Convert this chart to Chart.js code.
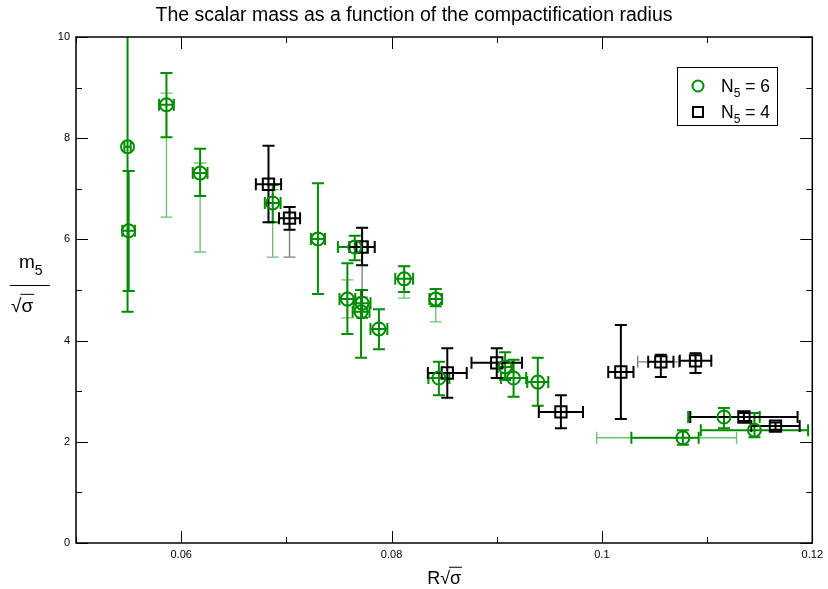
<!DOCTYPE html>
<html>
<head>
<meta charset="utf-8">
<script src="https://cdn.jsdelivr.net/npm/chart.js@4.4.1/dist/chart.umd.min.js"></script>
<style>
body { margin: 0; background: #fff; }
#wrap { width: 828px; height: 589px; }
</style>
</head>
<body>
<div id="wrap"><canvas id="massChart"></canvas></div>
<script>
// N5 = 6 (green circles)
const g6X    = [0.0549, 0.0550, 0.0586, 0.0618, 0.0687, 0.0730, 0.0765, 0.0758, 0.0772, 0.0771, 0.0788, 0.0812, 0.0842, 0.0845, 0.0908, 0.0916, 0.0939, 0.1116, 0.1145, 0.1077];
const g6Y    = [7.83, 6.17, 8.66, 7.31, 6.72, 6.01, 5.85, 4.82, 4.74, 4.57, 4.23, 5.22, 4.82, 3.26, 3.48, 3.26, 3.18, 2.49, 2.23, 2.08];
const g6YLo  = [4.57, 4.98, 8.02, 6.86, 6.34, 4.92, 5.59, 4.13, 4.45, 3.66, 3.83, 4.96, 4.68, 2.92, 3.22, 2.89, 2.71, 2.27, 2.09, 1.94];
const g6YHi  = [10.6, 7.35, 9.29, 7.79, 7.08, 7.11, 6.07, 5.53, 5.00, 5.00, 4.62, 5.47, 5.02, 3.58, 3.77, 3.62, 3.66, 2.67, 2.57, 2.23];
const g6XMin = [0.0003, 0.0006, 0.0007, 0.0007, 0.00075, 0.00067, 0.0016, 0.00075, 0.0008, 0.0008, 0.0008, 0.00085, 0.0006, 0.001, 0.0007, 0.0012, 0.001, 0.0034, 0.0051, 0.0049];
const g6XPls = [0.0003, 0.0006, 0.0007, 0.0007, 0.00075, 0.00067, 0.0012, 0.00075, 0.0008, 0.0008, 0.0008, 0.00085, 0.0006, 0.001, 0.0007, 0.0012, 0.001, 0.0034, 0.0051, 0.0015];
// systematic (thin) bars, null = none
const g6SysLo = [null, 4.98, 6.44, 5.75, 5.65, null, null, 4.45, null, null, null, 4.84, 4.37, null, null, null, null, null, null, null];
const g6SysHi = [null, 7.35, 8.89, 7.51, 6.98, null, null, 5.20, null, null, null, 5.47, 5.02, null, null, null, null, null, null, null];
const g6SysXMin = [null, null, null, null, null, null, null, null, null, null, null, null, null, null, null, null, null, null, null, 0.0082];
const g6SysXPls = [null, null, null, null, null, null, null, null, null, null, null, null, null, null, null, null, null, null, null, 0.0051];

// N5 = 4 (black squares)
const b4X    = [0.0683, 0.0703, 0.0772, 0.0853, 0.0900, 0.0961, 0.1018, 0.1056, 0.1089, 0.1135, 0.1165];
const b4Y    = [7.09, 6.42, 5.85, 3.36, 3.56, 2.59, 3.38, 3.58, 3.60, 2.49, 2.31];
const b4YLo  = [6.34, 6.19, 5.49, 2.87, 3.26, 2.27, 2.45, 3.28, 3.36, 2.41, 2.24];
const b4YHi  = [7.85, 6.64, 6.23, 3.85, 3.85, 2.92, 4.31, 3.72, 3.75, 2.57, 2.38];
const b4XErr = [0.0012, 0.0010, 0.0012, 0.00185, 0.0024, 0.0021, 0.0012, 0.0012, 0.0015, 0.0051, 0.0023];
const b4SysLo = [null, 5.65, 4.86, null, null, null, null, null, null, null, null];
const b4SysHi = [null, 6.64, 6.23, null, null, null, null, null, null, null, null];
const b4SysXMin = [null, null, null, null, null, null, null, 0.0022, null, null, null];
const b4SysXPls = [null, null, null, null, null, null, null, 0.0017, null, null, null];

const xTicks = [0.06, 0.08, 0.1, 0.12];
const xTickLabels = ['0.06', '0.08', '0.1', '0.12'];
const xMinor = [0.05, 0.07, 0.09, 0.11];
const yTicks = [0, 2, 4, 6, 8, 10];
const yMinor = [1, 3, 5, 7, 9];

const GREEN = 'rgb(0,140,0)';
const GREEN_LT = 'rgba(0,140,0,0.55)';
const BLACK = '#000';
const GRAY = 'rgba(0,0,0,0.5)';
const FONT = '"Liberation Sans", Arial, sans-serif';

function pts(xs, ys) {
    return xs.map(function(x, i) { return { x: x, y: ys[i] }; });
}

function yBar(ctx, sx, sy, x, lo, hi, cap) {
    var px = sx.getPixelForValue(x);
    var a = sy.getPixelForValue(lo), b = sy.getPixelForValue(hi);
    ctx.beginPath();
    ctx.moveTo(px, a); ctx.lineTo(px, b);
    ctx.moveTo(px - cap, a); ctx.lineTo(px + cap, a);
    ctx.moveTo(px - cap, b); ctx.lineTo(px + cap, b);
    ctx.stroke();
}

function xBar(ctx, sx, sy, y, lo, hi, cap) {
    var py = sy.getPixelForValue(y);
    var a = sx.getPixelForValue(lo), b = sx.getPixelForValue(hi);
    ctx.beginPath();
    ctx.moveTo(a, py); ctx.lineTo(b, py);
    ctx.moveTo(a, py - cap); ctx.lineTo(a, py + cap);
    ctx.moveTo(b, py - cap); ctx.lineTo(b, py + cap);
    ctx.stroke();
}

function drawSeries(ctx, sx, sy, o) {
    // thin bars first
    ctx.lineWidth = 1.4;
    ctx.strokeStyle = o.light;
    o.x.forEach(function(x, i) {
        if (o.sysLo[i] !== null) yBar(ctx, sx, sy, x, o.sysLo[i], o.sysHi[i], 6);
        if (o.sysXMin[i] !== null) xBar(ctx, sx, sy, o.y[i], x - o.sysXMin[i], x + o.sysXPls[i], 6);
    });
    ctx.lineWidth = 2;
    ctx.strokeStyle = o.color;
    o.x.forEach(function(x, i) {
        yBar(ctx, sx, sy, x, o.yLo[i], o.yHi[i], 6);
        xBar(ctx, sx, sy, o.y[i], x - o.xMin[i], x + o.xPls[i], 6);
    });
}

const errorBars = {
    id: 'errorBars',
    beforeDatasetsDraw: function(chart) {
        var ctx = chart.ctx, a = chart.chartArea;
        var sx = chart.scales.x, sy = chart.scales.y;
        ctx.save();
        ctx.beginPath();
        ctx.rect(a.left, a.top, a.right - a.left, a.bottom - a.top);
        ctx.clip();
        drawSeries(ctx, sx, sy, { x: g6X, y: g6Y, yLo: g6YLo, yHi: g6YHi, xMin: g6XMin, xPls: g6XPls,
            sysLo: g6SysLo, sysHi: g6SysHi, sysXMin: g6SysXMin, sysXPls: g6SysXPls, color: GREEN, light: GREEN_LT });
        drawSeries(ctx, sx, sy, { x: b4X, y: b4Y, yLo: b4YLo, yHi: b4YHi, xMin: b4XErr, xPls: b4XErr,
            sysLo: b4SysLo, sysHi: b4SysHi, sysXMin: b4SysXMin, sysXPls: b4SysXPls, color: BLACK, light: GRAY });
        ctx.restore();
    }
};

function sqrtSigma(ctx, x, base, size) {
    // radical sign with overline over sigma
    ctx.font = size + 'px ' + FONT;
    ctx.textAlign = 'left';
    ctx.textBaseline = 'alphabetic';
    var rw = ctx.measureText('\u221A').width;
    ctx.fillText('\u221A', x, base);
    var sw = ctx.measureText('\u03C3').width;
    ctx.fillText('\u03C3', x + rw, base);
    ctx.beginPath();
    ctx.lineWidth = 1;
    ctx.moveTo(x + rw - 1, base - size * 0.93);
    ctx.lineTo(x + rw + sw + 1, base - size * 0.93);
    ctx.stroke();
    return rw + sw;
}

const frameAndText = {
    id: 'frameAndText',
    afterDraw: function(chart) {
        var ctx = chart.ctx, a = chart.chartArea;
        var sx = chart.scales.x, sy = chart.scales.y;
        ctx.save();
        ctx.strokeStyle = '#000';
        ctx.fillStyle = '#000';
        // box
        ctx.lineWidth = 1.5;
        ctx.strokeRect(a.left, a.top, a.right - a.left, a.bottom - a.top);
        // inward ticks on all four sides
        ctx.lineWidth = 1;
        function tx(v, len) {
            var p = Math.round(sx.getPixelForValue(v)) + 0.5;
            ctx.beginPath();
            ctx.moveTo(p, a.bottom); ctx.lineTo(p, a.bottom - len);
            ctx.moveTo(p, a.top); ctx.lineTo(p, a.top + len);
            ctx.stroke();
        }
        function ty(v, len) {
            var p = Math.round(sy.getPixelForValue(v)) + 0.5;
            ctx.beginPath();
            ctx.moveTo(a.left, p); ctx.lineTo(a.left + len, p);
            ctx.moveTo(a.right, p); ctx.lineTo(a.right - len, p);
            ctx.stroke();
        }
        xTicks.forEach(function(v) { tx(v, 12); });
        xMinor.forEach(function(v) { tx(v, 6); });
        yTicks.forEach(function(v) { ty(v, 12); });
        yMinor.forEach(function(v) { ty(v, 6); });

        // title
        ctx.font = '19.5px ' + FONT;
        ctx.textAlign = 'center';
        ctx.textBaseline = 'alphabetic';
        ctx.fillText('The scalar mass as a function of the compactification radius', 414, 21);

        // x axis title  R sqrt(sigma)
        ctx.font = '18px ' + FONT;
        ctx.textAlign = 'left';
        var rW = ctx.measureText('R').width;
        var cx = (a.left + a.right) / 2;
        var tot = rW + ctx.measureText('\u221A\u03C3').width;
        var x0 = cx - tot / 2;
        ctx.fillText('R', x0, 584);
        sqrtSigma(ctx, x0 + rW, 584, 18);

        // y axis title  m5 / sqrt(sigma)
        ctx.font = '19px ' + FONT;
        ctx.textAlign = 'left';
        ctx.fillText('m', 19, 268);
        var mW = ctx.measureText('m').width;
        ctx.font = '14px ' + FONT;
        ctx.fillText('5', 19 + mW, 275);
        ctx.beginPath();
        ctx.lineWidth = 1;
        ctx.moveTo(10, 285.5); ctx.lineTo(50, 285.5);
        ctx.stroke();
        sqrtSigma(ctx, 11, 312, 19);

        // legend
        ctx.lineWidth = 1;
        ctx.strokeStyle = '#000';
        ctx.strokeRect(677.5, 67.5, 100, 58);
        ctx.lineWidth = 2;
        ctx.strokeStyle = GREEN;
        ctx.beginPath();
        ctx.arc(698, 86, 5.5, 0, Math.PI * 2);
        ctx.stroke();
        ctx.strokeStyle = BLACK;
        ctx.strokeRect(693, 107, 10, 10);
        [['6', 92], ['4', 118]].forEach(function(it) {
            ctx.font = '17.5px ' + FONT;
            ctx.fillText('N', 721, it[1]);
            var nW = ctx.measureText('N').width;
            ctx.font = '12px ' + FONT;
            ctx.fillText('5', 721 + nW, it[1] + 5);
            var fW = ctx.measureText('5').width;
            ctx.font = '17.5px ' + FONT;
            ctx.fillText(' = ' + it[0], 721 + nW + fW, it[1]);
        });
        ctx.restore();
    }
};

new Chart(document.getElementById('massChart'), {
    type: 'scatter',
    data: {
        datasets: [{
            label: 'N5 = 6',
            data: pts(g6X, g6Y),
            pointStyle: 'circle',
            pointRadius: 6.5,
            pointHoverRadius: 6.5,
            borderColor: GREEN,
            backgroundColor: 'rgba(0,0,0,0)',
            borderWidth: 2
        }, {
            label: 'N5 = 4',
            data: pts(b4X, b4Y),
            pointStyle: 'rect',
            pointRadius: 8,
            pointHoverRadius: 8,
            borderColor: BLACK,
            backgroundColor: 'rgba(0,0,0,0)',
            borderWidth: 2
        }]
    },
    options: {
        responsive: true,
        maintainAspectRatio: false,
        animation: false,
        events: [],
        layout: { padding: { top: 37, right: 15, left: 0, bottom: 0 } },
        plugins: {
            legend: { display: false },
            title: { display: false },
            tooltip: { enabled: false }
        },
        scales: {
            x: {
                type: 'linear',
                min: 0.05,
                max: 0.12,
                afterBuildTicks: function(s) { s.ticks = xTicks.map(function(v) { return { value: v }; }); },
                afterFit: function(s) { s.height = 46; },
                grid: { display: false, drawTicks: false },
                border: { display: false },
                ticks: {
                    padding: 5,
                    color: '#000',
                    font: { family: FONT, size: 11 },
                    maxRotation: 0,
                    autoSkip: false,
                    callback: function(v) { return xTickLabels[xTicks.indexOf(v)]; }
                }
            },
            y: {
                type: 'linear',
                min: 0,
                max: 10,
                afterBuildTicks: function(s) { s.ticks = yTicks.map(function(v) { return { value: v }; }); },
                afterFit: function(s) { s.width = 76; },
                grid: { display: false, drawTicks: false },
                border: { display: false },
                ticks: {
                    padding: 6,
                    color: '#000',
                    font: { family: FONT, size: 11 },
                    callback: function(v) { return String(v); }
                }
            }
        }
    },
    plugins: [errorBars, frameAndText]
});
</script>
</body>
</html>
